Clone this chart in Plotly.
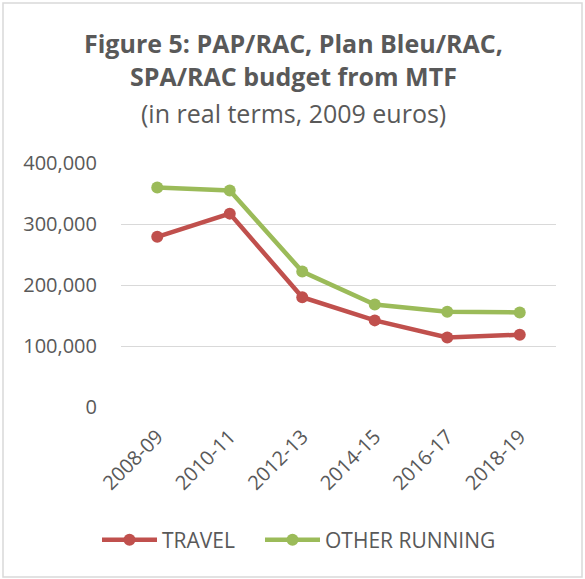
import plotly.graph_objects as go

categories = ["2008-09", "2010-11", "2012-13", "2014-15", "2016-17", "2018-19"]
travel = [279000, 317000, 180000, 142000, 114000, 118500]
other_running = [360000, 355000, 222000, 168000, 156000, 155000]
y_ticks = [0, 100000, 200000, 300000, 400000]
y_tick_labels = ["0", "100,000", "200,000", "300,000", "400,000"]
title_lines = ["<b>Figure 5: PAP/RAC, Plan Bleu/RAC,</b>", "<b>SPA/RAC budget from MTF</b>",
               "(in real terms, 2009 euros)"]

FONT = "Open Sans"
GREY = "#595959"
L, R, T, B = 121, 29, 163, 172
PH = 579 - T - B
PW = 585 - L - R

def py(pix):
    return (579 - B - pix) / PH

def px(pix):
    return (pix - L) / PW

fig = go.Figure()
fig.add_trace(go.Scatter(x=categories, y=travel, name="TRAVEL", mode="lines+markers",
                         line=dict(color="#C0504D", width=4.5),
                         marker=dict(size=12, color="#C0504D"), legend="legend"))
fig.add_trace(go.Scatter(x=categories, y=other_running, name="OTHER RUNNING", mode="lines+markers",
                         line=dict(color="#9BBB59", width=4.5),
                         marker=dict(size=12, color="#9BBB59"), legend="legend2"))

legend_common = dict(orientation="h", xanchor="left", y=py(540), yanchor="middle",
                     font=dict(size=21, color=GREY), itemwidth=55, bgcolor="rgba(0,0,0,0)")

fig.update_layout(
    width=585, height=579,
    margin=dict(l=L, r=R, t=T, b=B, autoexpand=False),
    paper_bgcolor="white", plot_bgcolor="white",
    font=dict(family=FONT, color=GREY),
    xaxis=dict(type="category", tickangle=-45, showgrid=False, showline=False, zeroline=False,
               tickfont=dict(size=20, color=GREY), ticks="outside", ticklen=9, tickcolor="rgba(0,0,0,0)",
               range=[-0.5, 5.5], automargin=False),
    yaxis=dict(range=[0, 400000], tickvals=y_ticks, ticktext=y_tick_labels,
               showgrid=True, gridcolor="#D9D9D9", gridwidth=1.3, zeroline=False,
               tickfont=dict(size=20, color=GREY), ticks="outside", ticklen=19,
               tickcolor="rgba(0,0,0,0)", automargin=False),
    legend=dict(x=px(97), **legend_common),
    legend2=dict(x=px(260), **legend_common),
    showlegend=True,
)

for txt, ypix in zip(title_lines, [43, 76, 113]):
    fig.add_annotation(text=txt, xref="paper", yref="paper", x=px(293), y=py(ypix),
                       xanchor="center", yanchor="middle", showarrow=False,
                       font=dict(family=FONT, size=25, color=GREY))

fig.add_shape(type="rect", xref="paper", yref="paper",
              x0=px(3), x1=px(582), y0=py(577), y1=py(3),
              line=dict(color="#D9D9D9", width=1.5), fillcolor="rgba(0,0,0,0)", layer="below")

fig.write_html("out.html", post_script="document.body.style.margin='0';",
               config={"displayModeBar": False})
